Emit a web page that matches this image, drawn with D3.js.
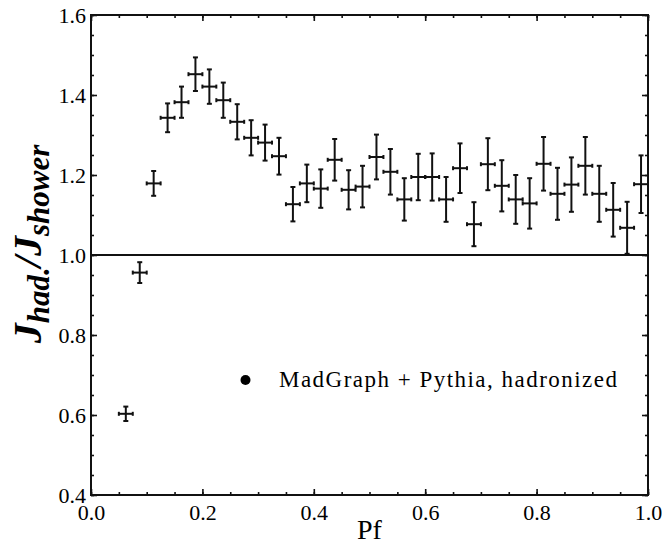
<!DOCTYPE html>
<html>
<head>
<meta charset="utf-8">
<script src="https://cdn.jsdelivr.net/npm/d3@7"></script>
<style>
  html, body { margin: 0; padding: 0; background: #fff; }
  svg { display: block; }
</style>
</head>
<body>
<div id="chart"></div>
<script>
// ---- data ----
const pf = [0.0625, 0.0875, 0.1125, 0.1375, 0.1625, 0.1875, 0.2125, 0.2375, 0.2625, 0.2875,
            0.3125, 0.3375, 0.3625, 0.3875, 0.4125, 0.4375, 0.4625, 0.4875, 0.5125, 0.5375,
            0.5625, 0.5875, 0.6125, 0.6375, 0.6625, 0.6875, 0.7125, 0.7375, 0.7625, 0.7875,
            0.8125, 0.8375, 0.8625, 0.8875, 0.9125, 0.9375, 0.9625, 0.9875];
const ratio = [0.603, 0.956, 1.179, 1.343, 1.382, 1.452, 1.421, 1.387, 1.333, 1.293,
               1.281, 1.247, 1.127, 1.179, 1.166, 1.238, 1.163, 1.171, 1.245, 1.208,
               1.139, 1.195, 1.195, 1.139, 1.217, 1.077, 1.227, 1.173, 1.139, 1.129,
               1.228, 1.153, 1.176, 1.223, 1.153, 1.113, 1.068, 1.177];
const ratioErr = [0.018, 0.026, 0.031, 0.036, 0.039, 0.042, 0.043, 0.044, 0.044, 0.044,
                  0.045, 0.046, 0.043, 0.047, 0.048, 0.052, 0.049, 0.052, 0.056, 0.057,
                  0.053, 0.058, 0.059, 0.056, 0.062, 0.055, 0.065, 0.064, 0.061, 0.063,
                  0.067, 0.065, 0.068, 0.072, 0.070, 0.067, 0.065, 0.072];
const binHalfWidth = 0.0125;
const xTicks = [0.0, 0.2, 0.4, 0.6, 0.8, 1.0];
const yTicks = [0.4, 0.6, 0.8, 1.0, 1.2, 1.4, 1.6];
const xMinorTicks = d3.range(0, 1.0001, 0.05);
const yMinorTicks = d3.range(0.4, 1.6001, 0.05);
const referenceLevel = 1.0;
const legendLabel = "MadGraph + Pythia, hadronized";
const xLabel = "Pf";

// ---- layout ----
const W = 662, H = 552;
const margin = { left: 91, right: 14, top: 15, bottom: 57 };
const iw = W - margin.left - margin.right;
const ih = H - margin.top - margin.bottom;
const FONT = "'Liberation Serif', 'Times New Roman', serif";
const INK = "#000";

const svg = d3.select("#chart").append("svg")
  .attr("width", W).attr("height", H);

const g = svg.append("g").attr("transform", `translate(${margin.left},${margin.top})`);

const x = d3.scaleLinear().domain([0, 1]).range([0, iw]);
const y = d3.scaleLinear().domain([0.4, 1.6]).range([ih, 0]);

const fmt = d3.format(".1f");
const tickFont = 22;

function styleAxis(sel) {
  sel.select(".domain").remove();
  sel.selectAll(".tick line").attr("stroke", "#111").attr("stroke-width", 1.6);
  sel.selectAll(".tick text")
    .style("font-family", FONT).style("font-size", tickFont + "px").style("fill", INK);
}
// minor ticks (all four sides, pointing inward)
g.append("g").attr("transform", `translate(0,${ih})`)
  .call(d3.axisBottom(x).tickValues(xMinorTicks).tickSize(-3).tickFormat(""))
  .call(styleAxis);
g.append("g")
  .call(d3.axisTop(x).tickValues(xMinorTicks).tickSize(-3).tickFormat(""))
  .call(styleAxis);
g.append("g")
  .call(d3.axisLeft(y).tickValues(yMinorTicks).tickSize(-3).tickFormat(""))
  .call(styleAxis);
g.append("g").attr("transform", `translate(${iw},0)`)
  .call(d3.axisRight(y).tickValues(yMinorTicks).tickSize(-3).tickFormat(""))
  .call(styleAxis);

// major ticks with labels
g.append("g").attr("transform", `translate(0,${ih})`)
  .call(d3.axisBottom(x).tickValues(xTicks).tickSize(-6).tickPadding(9).tickFormat(fmt))
  .call(styleAxis);
g.append("g")
  .call(d3.axisLeft(y).tickValues(yTicks).tickSize(-6).tickPadding(5).tickFormat(fmt))
  .call(styleAxis);
g.append("g")
  .call(d3.axisTop(x).tickValues(xTicks).tickSize(-6).tickFormat(""))
  .call(styleAxis);
g.append("g").attr("transform", `translate(${iw},0)`)
  .call(d3.axisRight(y).tickValues(yTicks).tickSize(-6).tickFormat(""))
  .call(styleAxis);

// frame
g.append("rect").attr("x", 0).attr("y", 0).attr("width", iw).attr("height", ih)
  .attr("fill", "none").attr("stroke", "#111").attr("stroke-width", 2);

// reference line at 1.0
g.append("line")
  .attr("x1", x(0)).attr("x2", x(1))
  .attr("y1", y(referenceLevel)).attr("y2", y(referenceLevel))
  .attr("stroke", "#111").attr("stroke-width", 2);

// error-bar crosses
const data = pf.map((p, i) => ({ p, v: ratio[i], e: ratioErr[i] }));
const capV = 2.5, capH = 2;
const pts = g.append("g").attr("stroke", "#111").attr("stroke-width", 2).attr("fill", "none");
const cross = pts.selectAll("g.pt").data(data).join("g").attr("class", "pt");
cross.append("line")
  .attr("x1", d => x(d.p)).attr("x2", d => x(d.p))
  .attr("y1", d => y(d.v - d.e)).attr("y2", d => y(d.v + d.e));
cross.append("line")
  .attr("x1", d => x(d.p) - capV).attr("x2", d => x(d.p) + capV)
  .attr("y1", d => y(d.v + d.e)).attr("y2", d => y(d.v + d.e));
cross.append("line")
  .attr("x1", d => x(d.p) - capV).attr("x2", d => x(d.p) + capV)
  .attr("y1", d => y(d.v - d.e)).attr("y2", d => y(d.v - d.e));
cross.append("line")
  .attr("x1", d => x(d.p - binHalfWidth)).attr("x2", d => x(d.p + binHalfWidth))
  .attr("y1", d => y(d.v)).attr("y2", d => y(d.v));
cross.append("line")
  .attr("x1", d => x(d.p - binHalfWidth)).attr("x2", d => x(d.p - binHalfWidth))
  .attr("y1", d => y(d.v) - capH).attr("y2", d => y(d.v) + capH);
cross.append("line")
  .attr("x1", d => x(d.p + binHalfWidth)).attr("x2", d => x(d.p + binHalfWidth))
  .attr("y1", d => y(d.v) - capH).attr("y2", d => y(d.v) + capH);

// legend
svg.append("circle").attr("cx", 245.5).attr("cy", 380).attr("r", 5).attr("fill", INK);
svg.append("text").attr("x", 279).attr("y", 387)
  .style("font-family", FONT).style("font-size", "23px").style("fill", INK)
  .attr("textLength", 338).attr("lengthAdjust", "spacing")
  .text(legendLabel);

// x label
svg.append("text")
  .attr("x", margin.left + iw / 2).attr("y", 539)
  .attr("text-anchor", "middle")
  .style("font-family", FONT).style("font-size", "28px").style("fill", INK)
  .text(xLabel);

// y label  J_had./J_shower
const yl = svg.append("text")
  .attr("transform", `translate(41,244) rotate(-90)`)
  .attr("text-anchor", "middle")
  .style("font-family", FONT).style("font-weight", "bold").style("font-style", "italic")
  .style("fill", INK);
yl.append("tspan").style("font-size", "40px").text("J");
yl.append("tspan").style("font-size", "31px").attr("dy", 8).text("had.");
yl.append("tspan").style("font-size", "40px").attr("dy", -8).text("/J");
yl.append("tspan").style("font-size", "31px").attr("dy", 8).text("shower");
</script>
</body>
</html>
